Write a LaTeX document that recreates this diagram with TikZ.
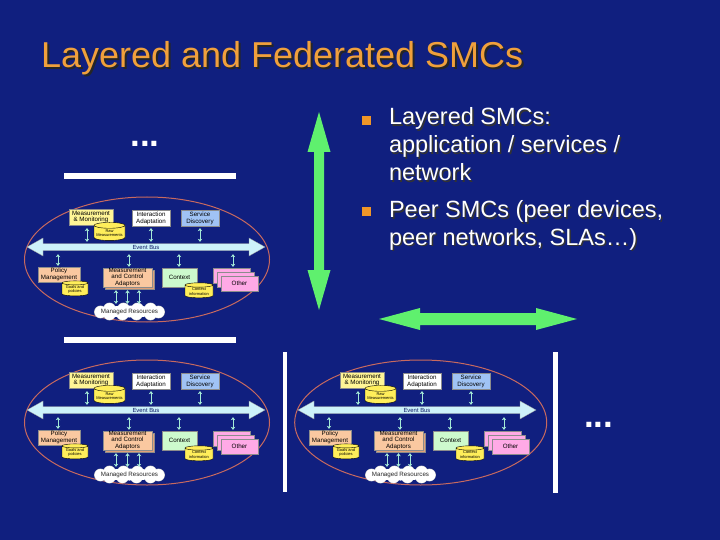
\documentclass[tikz,border=0pt]{standalone}
\usepackage{fontspec}
\setmainfont{Liberation Sans}
\usetikzlibrary{shapes.geometric,arrows.meta,calc}
\definecolor{bg}{RGB}{16,31,127}
\definecolor{titlec}{RGB}{240,160,60}
\definecolor{bulc}{RGB}{240,150,40}
\definecolor{grn}{RGB}{95,240,110}
\definecolor{ellc}{RGB}{200,105,95}
\definecolor{busc}{RGB}{205,242,250}
\definecolor{arrc}{RGB}{165,235,215}
\definecolor{yel}{RGB}{255,245,150}
\definecolor{cylc}{RGB}{255,238,90}
\definecolor{blu}{RGB}{160,195,245}
\definecolor{pch}{RGB}{250,200,160}
\definecolor{pchd}{RGB}{225,160,120}
\definecolor{ctxc}{RGB}{205,250,205}
\definecolor{pnk}{RGB}{255,170,230}
\tikzset{
  box/.style={draw=black!45, line width=0.3pt, inner sep=0pt, align=center,
    font=\fontsize{6.2}{6.8}\selectfont, text=black},
  cyl/.style={cylinder, shape border rotate=90, aspect=0.22, draw=black, line width=0.4pt,
    fill=cylc, inner sep=0pt, align=center, font=\fontsize{4}{4.4}\selectfont, text=black},
  sarr/.style={draw=arrc, line width=0.9pt, {Stealth[length=3pt,width=4.5pt]}-{Stealth[length=3pt,width=4.5pt]}},
  bodytext/.style={anchor=base west, text=white, font=\fontsize{23.5}{28}\selectfont},
  shadowtext/.style={anchor=base west, text=black!80, font=\fontsize{23.5}{28}\selectfont},
  dots/.style={anchor=base, text=white, font=\bfseries\fontsize{35}{40}\selectfont},
}
\newcommand{\puffs}{{(-29,0.5)},{(-20,-2.5)},{(-6,-2.5)},{(8,-2.5)},{(21,-2.5)},{(29,0.5)},
                    {(21,2.5)},{(7,2.5)},{(-7,2.5)},{(-20,2.5)}}
% #1 = ellipse centre x, #2 = ellipse x radius
\newcommand{\smcdiagram}[2]{%
  \draw[ellc, line width=1pt] (#1,259.5) ellipse [x radius=#2, y radius=62.5];
  % event bus
  \filldraw[fill=busc, draw=black!40, line width=0.3pt] (27,247) -- (43,238) -- (43,243.5) -- (249,243.5) -- (249,238) -- (265,247)
     -- (249,256) -- (249,250.5) -- (43,250.5) -- (43,256) -- cycle;
  \node[inner sep=0pt, minimum width=206pt, minimum height=7pt, text=bg!80!black,
        font=\fontsize{5.9}{6}\selectfont] (bus) at (146,247) {Event Bus};
  % upper row
  \node[box, fill=yel, minimum width=44pt, minimum height=16pt] (mm) at (91,217) {Measurement\\\& Monitoring};
  \node[cyl, minimum width=31pt, minimum height=18pt] (raw) at (109.5,233) {Raw\\Measurements};
  \node[box, fill=white, minimum width=38pt, minimum height=16pt] (ia) at (151,218) {Interaction\\Adaptation};
  \node[box, fill=blu, minimum width=38pt, minimum height=16pt] (sd) at (200,218) {Service\\Discovery};
  % lower row
  \node[box, fill=pch, minimum width=42pt, minimum height=15pt] (pm) at (59,274.5) {Policy\\Management};
  \node[cyl, minimum width=26pt, minimum height=15pt] (goals) at (75,289.5) {Goals and\\policies};
  \node[box, fill=pchd, minimum width=49pt, minimum height=19pt] (mcab) at (129.5,279.5) {};
  \node[box, fill=pch, minimum width=49pt, minimum height=19pt] (mca) at (127.5,277.5) {Measurement\\and Control\\Adaptors};
  \node[box, fill=ctxc, minimum width=35pt, minimum height=19pt] (ctx) at (179.5,277.5) {Context};
  \node[cyl, minimum width=28pt, minimum height=15pt] (ctxi) at (199,291.5) {Context\\information};
  \node[box, fill=pnk, minimum width=37pt, minimum height=15pt] (oth3) at (231.5,275.5) {};
  \node[box, fill=pnk, minimum width=37pt, minimum height=15pt] (oth2) at (235.5,279.5) {};
  \node[box, fill=pnk, minimum width=37pt, minimum height=15pt] (oth) at (239.5,283.5) {Other};
  % cloud
  \begin{scope}[shift={(129.5,311.5)}]
    \foreach \p in \puffs
      \draw[black!25, line width=0.8pt] \p circle [radius=6];
    \fill[white] (0,0) ellipse [x radius=30, y radius=6];
    \foreach \p in \puffs
      \fill[white] \p circle [radius=6];
  \end{scope}
  \node[inner sep=0pt, minimum width=73pt, minimum height=17pt,
        font=\fontsize{6.2}{6.5}\selectfont, text=black!85] (cloud) at (129.5,311.5) {Managed Resources};
  % connectors upper
  \draw[sarr] ([xshift=-4pt,yshift=-3pt]mm.south) -- ([xshift=-4pt,yshift=1.5pt]mm.south |- bus.north);
  \draw[sarr] ([yshift=-2pt]ia.south) -- ([yshift=1.5pt]ia.south |- bus.north);
  \draw[sarr] ([yshift=-2pt]sd.south) -- ([yshift=1.5pt]sd.south |- bus.north);
  % connectors lower
  \draw[sarr] ([xshift=-1pt,yshift=-3.5pt]pm.north |- bus.south) -- ([xshift=-1pt,yshift=1pt]pm.north);
  \draw[sarr] ([xshift=1.5pt,yshift=-3.5pt]mca.north |- bus.south) -- ([xshift=1.5pt,yshift=1pt]mca.north);
  \draw[sarr] ([xshift=-0.5pt,yshift=-3.5pt]ctx.north |- bus.south) -- ([xshift=-0.5pt,yshift=1pt]ctx.north);
  \draw[sarr] ([xshift=1.5pt,yshift=-3.5pt]oth3.north |- bus.south) -- ([xshift=1.5pt,yshift=1pt]oth3.north);
  % adaptors to resources
  \foreach \dx in {-11.5,0,11.5}{
    \draw[sarr] ([xshift=\dx pt,yshift=-3pt]mca.south) -- ([xshift=\dx pt,yshift=-1pt]mca.south |- cloud.north);
  }
}
\begin{document}
\begin{tikzpicture}[x=1pt,y=-1pt]
\fill[bg] (0,0) rectangle (720,540);
\useasboundingbox (0,0) rectangle (720,540);
% title
\node[anchor=base west, text=black!85, font=\fontsize{36}{40}\selectfont] (titles) at (39.5,70) {Layered and Federated SMCs};
\node[anchor=base west, text=titlec, font=\fontsize{36}{40}\selectfont] (title) at (37.5,68) {Layered and Federated SMCs};
% bullets
\fill[bulc] (362,116.5) rectangle (371,125.5);
\fill[bulc] (362,207) rectangle (371,216);
\node[shadowtext] (l1s) at (387,126.5) {Layered SMCs:};
\node[shadowtext] (l2s) at (387,154.5) {application / services /};
\node[shadowtext] (l3s) at (387,182.5) {network};
\node[shadowtext] (l4s) at (387,219.5) {Peer SMCs (peer devices,};
\node[shadowtext] (l5s) at (387,246.5) {peer networks, SLAs…)};
\node[bodytext] (l1) at (385.5,125) {Layered SMCs:};
\node[bodytext] (l2) at (385.5,153) {application / services /};
\node[bodytext] (l3) at (385.5,181) {network};
\node[bodytext] (l4) at (385.5,218) {Peer SMCs (peer devices,};
\node[bodytext] (l5) at (385.5,245) {peer networks, SLAs…)};
% green arrows
\fill[grn] (319,112) -- (330.5,152) -- (324,152) -- (324,270) -- (330.5,270) -- (319,310)
  -- (307.5,270) -- (314,270) -- (314,152) -- (307.5,152) -- cycle;
\fill[grn] (379,319) -- (420,308) -- (420,313) -- (536,313) -- (536,308) -- (577,319)
  -- (536,330) -- (536,325) -- (420,325) -- (420,330) -- cycle;
% white separators
\fill[white] (64,173) rectangle (236,179);
\fill[white] (64,337) rectangle (236,343);
\fill[white] (282.5,352) rectangle (287,492);
\fill[white] (553,352) rectangle (558,493);
% dots
\node[dots] (dots1) at (145,146.8) {...};
\node[dots] (dots2) at (598.7,427) {...};
% SMC diagrams
\begin{scope}[name prefix=a-]
  \smcdiagram{147}{122.5}
\end{scope}
\begin{scope}[shift={(0,163)}, name prefix=b-]
  \smcdiagram{147}{122.5}
\end{scope}
\begin{scope}[shift={(271,163)}, name prefix=c-]
  \smcdiagram{149.7}{126}
\end{scope}
\end{tikzpicture}
\end{document}
